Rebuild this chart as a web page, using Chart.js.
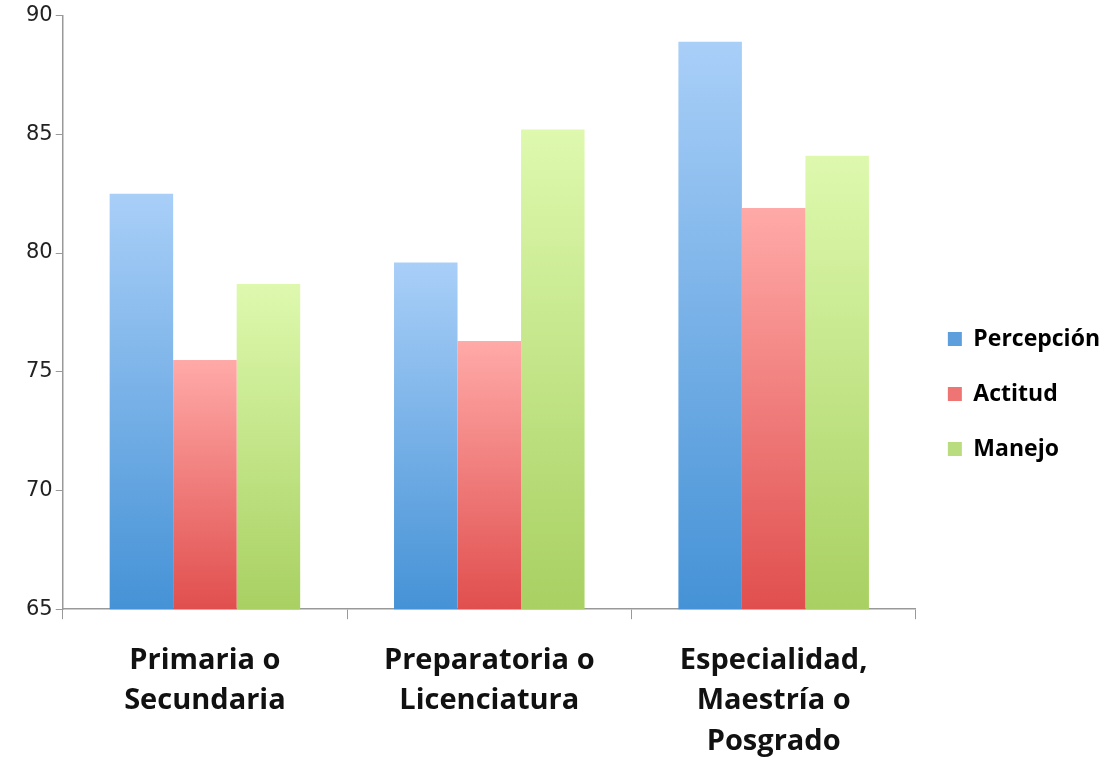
<!DOCTYPE html>
<html>
<head>
<meta charset="utf-8">
<script src="https://cdn.jsdelivr.net/npm/chart.js@4/dist/chart.umd.min.js"></script>
<style>
  html, body { margin: 0; padding: 0; background: #fff; }
  #wrap { width: 1112px; height: 759px; }
</style>
</head>
<body>
<div id="wrap"><canvas id="graph" width="1112" height="759"></canvas></div>
<script>
const categories = [
  ['Primaria o', 'Secundaria'],
  ['Preparatoria o', 'Licenciatura'],
  ['Especialidad,', 'Maestría o', 'Posgrado']
];
const seriesNames = ['Percepción', 'Actitud', 'Manejo'];
const percepcion = [82.5, 79.6, 88.9];
const actitud = [75.5, 76.3, 81.9];
const manejo = [78.7, 85.2, 84.1];
const yTicks = [65, 70, 75, 80, 85, 90];

// couleurs haut / bas pour le dégradé de chaque barre
const colTop = ['#a9cff8', '#ffaaa8', '#def9ae'];
const colBottom = ['#4592d6', '#e04f4e', '#a8d062'];
const colLegend = ['#5d9fdc', '#ee7573', '#b9dc7e'];

function degrade(i) {
  return function(context) {
    const chart = context.chart;
    const area = chart.chartArea;
    if (!area || context.raw === undefined) return colLegend[i];
    const y = chart.scales.y.getPixelForValue(context.raw);
    const g = chart.ctx.createLinearGradient(0, y, 0, area.bottom);
    g.addColorStop(0, colTop[i]);
    g.addColorStop(1, colBottom[i]);
    return g;
  };
}

const allData = [percepcion, actitud, manejo];

const graph = document.getElementById('graph');
var graphBar = new Chart(graph, {
  type: 'bar',
  data: {
    labels: categories,
    datasets: seriesNames.map(function(name, i) {
      return {
        label: name,
        data: allData[i],
        backgroundColor: degrade(i),
        borderWidth: 0,
        categoryPercentage: 0.67,
        barPercentage: 1.0
      };
    })
  },
  options: {
    responsive: false,
    animation: false,
    layout: {
      padding: { top: 5, right: 2, bottom: -24, left: 23 }
    },
    plugins: {
      tooltip: { enabled: false },
      legend: {
        position: 'right',
        labels: {
          color: '#111',
          boxWidth: 14,
          boxHeight: 14,
          padding: 32,
          font: { family: 'Open Sans', size: 23, weight: 'bold' },
          generateLabels: function(chart) {
            return seriesNames.map(function(n, i) {
              return {
                text: n,
                fillStyle: colLegend[i],
                strokeStyle: colLegend[i],
                lineWidth: 0,
                datasetIndex: i
              };
            });
          }
        }
      }
    },
    scales: {
      y: {
        min: 65,
        max: 90,
        afterBuildTicks: function(axis) {
          axis.ticks = yTicks.map(function(v) { return { value: v }; });
        },
        grid: {
          drawOnChartArea: false,
          color: '#999',
          tickLength: 7
        },
        border: { color: '#999', width: 1.5 },
        ticks: {
          color: '#222',
          padding: 3,
          font: { family: 'DejaVu Sans', size: 21 }
        }
      },
      x: {
        grid: {
          offset: true,
          drawOnChartArea: false,
          color: '#999',
          tickLength: 10
        },
        border: { color: '#999', width: 1.5 },
        ticks: {
          color: '#111',
          padding: 21,
          maxRotation: 0,
          font: { family: 'Open Sans', size: 29, weight: 'bold', lineHeight: 1.4 }
        }
      }
    }
  }
});
</script>
</body>
</html>
